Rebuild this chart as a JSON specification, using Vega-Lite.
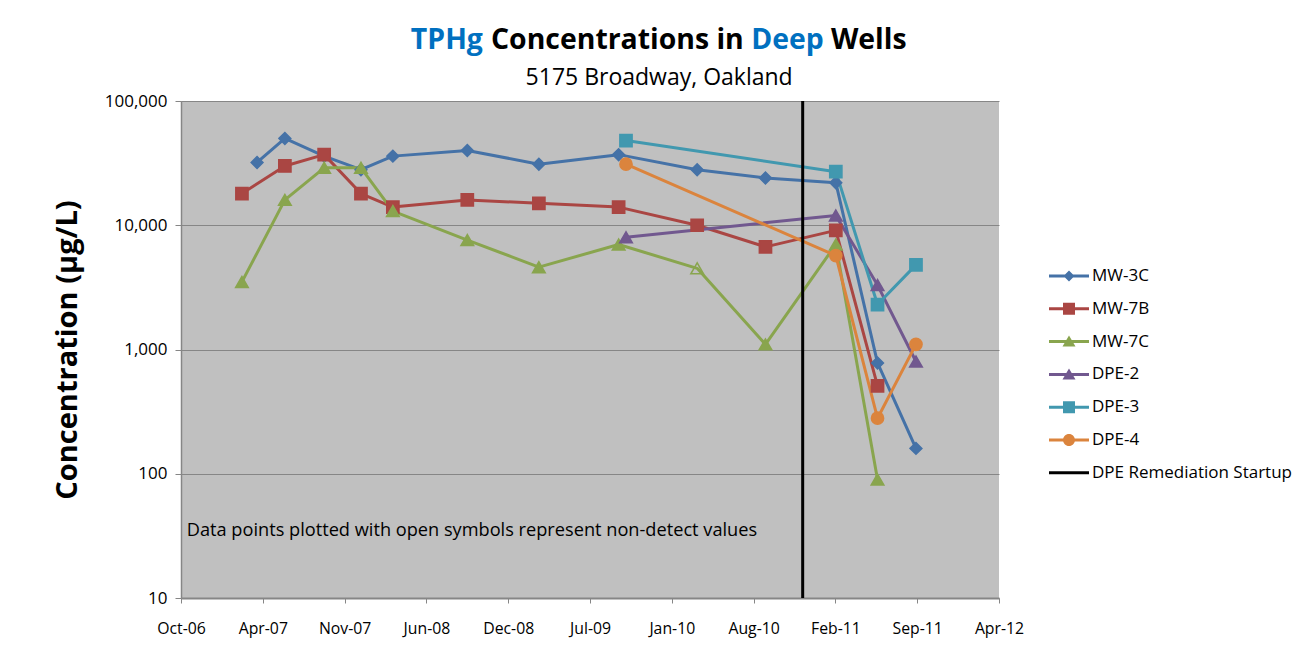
{
  "$schema": "https://vega.github.io/schema/vega-lite/v6.json",
  "width": 818,
  "height": 497,
  "autosize": {"type": "none"},
  "padding": {"left": 181, "top": 101, "right": 314, "bottom": 59},
  "background": "white",
  "view": {"fill": "#C0C0C0", "stroke": null},
  "config": {
    "font": "Open Sans",
    "view": {"fill": "#C0C0C0", "stroke": null},
    "axis": {"labelFont": "Open Sans", "labelColor": "black", "domainColor": "#868686", "tickColor": "#868686", "gridColor": "#868686", "gridOpacity": 1}
  },
  "datasets": {
    "wells": [
      {"well": "MW-3C", "date": "2007-04-14", "value": 32000},
      {"well": "MW-3C", "date": "2007-06-21", "value": 50000},
      {"well": "MW-3C", "date": "2007-09-25", "value": 36000},
      {"well": "MW-3C", "date": "2007-12-24", "value": 28000},
      {"well": "MW-3C", "date": "2008-03-11", "value": 36000},
      {"well": "MW-3C", "date": "2008-09-09", "value": 40000},
      {"well": "MW-3C", "date": "2009-03-03", "value": 31000},
      {"well": "MW-3C", "date": "2009-09-14", "value": 37000},
      {"well": "MW-3C", "date": "2010-03-25", "value": 28000},
      {"well": "MW-3C", "date": "2010-09-08", "value": 24000},
      {"well": "MW-3C", "date": "2011-02-27", "value": 22000},
      {"well": "MW-3C", "date": "2011-06-09", "value": 780},
      {"well": "MW-3C", "date": "2011-09-11", "value": 160},
      {"well": "MW-7B", "date": "2007-03-08", "value": 18000},
      {"well": "MW-7B", "date": "2007-06-21", "value": 30000},
      {"well": "MW-7B", "date": "2007-09-25", "value": 37000},
      {"well": "MW-7B", "date": "2007-12-24", "value": 18000},
      {"well": "MW-7B", "date": "2008-03-11", "value": 14000},
      {"well": "MW-7B", "date": "2008-09-09", "value": 16000},
      {"well": "MW-7B", "date": "2009-03-03", "value": 15000},
      {"well": "MW-7B", "date": "2009-09-14", "value": 14000},
      {"well": "MW-7B", "date": "2010-03-25", "value": 10000},
      {"well": "MW-7B", "date": "2010-09-08", "value": 6700},
      {"well": "MW-7B", "date": "2011-02-27", "value": 9100},
      {"well": "MW-7B", "date": "2011-06-09", "value": 510},
      {"well": "MW-7C", "date": "2007-03-08", "value": 3500},
      {"well": "MW-7C", "date": "2007-06-21", "value": 16000},
      {"well": "MW-7C", "date": "2007-09-25", "value": 29000},
      {"well": "MW-7C", "date": "2007-12-24", "value": 29000},
      {"well": "MW-7C", "date": "2008-03-11", "value": 13000},
      {"well": "MW-7C", "date": "2008-09-09", "value": 7600},
      {"well": "MW-7C", "date": "2009-03-03", "value": 4600},
      {"well": "MW-7C", "date": "2009-09-14", "value": 7000},
      {"well": "MW-7C", "date": "2010-03-25", "value": 4500, "nd": true},
      {"well": "MW-7C", "date": "2010-09-08", "value": 1100},
      {"well": "MW-7C", "date": "2011-02-27", "value": 7000},
      {"well": "MW-7C", "date": "2011-06-09", "value": 90},
      {"well": "DPE-2", "date": "2009-10-02", "value": 8000},
      {"well": "DPE-2", "date": "2011-02-27", "value": 12000},
      {"well": "DPE-2", "date": "2011-06-09", "value": 3300},
      {"well": "DPE-2", "date": "2011-09-11", "value": 800},
      {"well": "DPE-3", "date": "2009-10-02", "value": 48000},
      {"well": "DPE-3", "date": "2011-02-27", "value": 27000},
      {"well": "DPE-3", "date": "2011-06-09", "value": 2300},
      {"well": "DPE-3", "date": "2011-09-11", "value": 4800},
      {"well": "DPE-4", "date": "2009-10-02", "value": 31000},
      {"well": "DPE-4", "date": "2011-02-27", "value": 5700},
      {"well": "DPE-4", "date": "2011-06-09", "value": 280},
      {"well": "DPE-4", "date": "2011-09-11", "value": 1100}
    ],
    "events": [
      {"event": "DPE Remediation Startup", "date": "2010-12-08"}
    ]
  },
  "layer": [
    {
      "data": {"name": "wells"},
      "transform": [{"filter": "false"}],
      "mark": {"type": "point", "filled": true, "opacity": 1},
      "encoding": {
        "color": {
          "field": "well", "type": "nominal",
          "scale": {"domain": ["MW-3C", "MW-7B", "MW-7C", "DPE-2", "DPE-3", "DPE-4", "DPE Remediation Startup"], "range": ["#4572A7", "#AA4643", "#89A54E", "#71588F", "#4198AF", "#DB843D", "#000000"]},
          "legend": {
            "title": null, "orient": "none", "legendX": 878, "legendY": 165,
            "symbolSize": 400, "labelOffset": 13, "rowPadding": 14.8, "labelLimit": 400,
            "labelFontSize": 17, "labelFont": "Open Sans", "labelColor": "black", "padding": 0,
            "symbolStrokeWidth": 0, "symbolOpacity": 1
          }
        },
        "shape": {
          "field": "well", "type": "nominal",
          "scale": {
            "domain": ["MW-3C", "MW-7B", "MW-7C", "DPE-2", "DPE-3", "DPE-4", "DPE Remediation Startup"],
            "range": [
              "M-2,-0.15H2V0.15H-2ZM0,-0.55L0.55,0L0,0.55L-0.55,0Z",
              "M-2,-0.15H2V0.15H-2ZM-0.6,-0.6H0.6V0.6H-0.6Z",
              "M-2,-0.15H2V0.15H-2ZM0,-0.6L0.65,0.5H-0.65Z",
              "M-2,-0.15H2V0.15H-2ZM0,-0.6L0.65,0.5H-0.65Z",
              "M-2,-0.15H2V0.15H-2ZM-0.6,-0.6H0.6V0.6H-0.6Z",
              "M-2,-0.15H2V0.15H-2ZM-0.6,0A0.6,0.6 0 1,1 0.6,0A0.6,0.6 0 1,1 -0.6,0Z",
              "M-2,-0.15H2V0.15H-2Z"
            ]
          },
          "legend": {
            "title": null, "orient": "none", "legendX": 878, "legendY": 165,
            "symbolSize": 400, "labelOffset": 13, "rowPadding": 14.8, "labelLimit": 400,
            "labelFontSize": 17, "labelFont": "Open Sans", "labelColor": "black", "padding": 0,
            "symbolStrokeWidth": 0, "symbolOpacity": 1
          }
        }
      }
    },
    {
      "data": {"name": "wells"},
      "mark": {"type": "line", "strokeWidth": 3, "strokeJoin": "round"},
      "encoding": {
        "x": {
          "field": "date", "type": "temporal",
          "scale": {"type": "utc", "domain": [{"year": 2006, "month": 10, "date": 10, "utc": true}, {"year": 2012, "month": 4, "date": 1, "utc": true}]},
          "axis": {
            "values": [
              {"year": 2006, "month": 10, "date": 10, "utc": true},
              {"year": 2007, "month": 4, "date": 28, "utc": true},
              {"year": 2007, "month": 11, "date": 14, "utc": true},
              {"year": 2008, "month": 6, "date": 1, "utc": true},
              {"year": 2008, "month": 12, "date": 18, "utc": true},
              {"year": 2009, "month": 7, "date": 6, "utc": true},
              {"year": 2010, "month": 1, "date": 22, "utc": true},
              {"year": 2010, "month": 8, "date": 10, "utc": true},
              {"year": 2011, "month": 2, "date": 26, "utc": true},
              {"year": 2011, "month": 9, "date": 14, "utc": true},
              {"year": 2012, "month": 4, "date": 1, "utc": true}
            ],
            "labelExpr": "utcFormat(datum.value, '%b-%y')",
            "labelFontSize": 15.8,
            "grid": false, "tickSize": 5, "labelPadding": 18, "domainWidth": 2,
            "title": null, "labelFlush": false, "labelOverlap": false
          }
        },
        "y": {
          "field": "value", "type": "quantitative",
          "scale": {"type": "log", "domain": [10, 100000], "nice": false},
          "axis": {
            "values": [10, 100, 1000, 10000, 100000], "format": ",d",
            "labelFontSize": 17,
            "grid": true, "tickSize": 6, "labelPadding": 8, "domainWidth": 1.5,
            "labelFlush": false, "labelOverlap": false,
            "title": "Concentration (µg/L)", "titleFont": "Open Sans", "titleFontSize": 29, "titleFontWeight": "bold", "titleColor": "black", "titlePadding": 22
          }
        },
        "color": {"field": "well", "type": "nominal"}
      }
    },
    {
      "data": {"name": "wells"},
      "transform": [{"filter": {"field": "well", "oneOf": ["MW-3C"]}}],
      "mark": {"type": "point", "filled": true, "opacity": 1, "size": 140, "strokeWidth": 1.5, "shape": "diamond"},
      "encoding": {
        "x": {"field": "date", "type": "temporal"},
        "y": {"field": "value", "type": "quantitative"},
        "color": {"field": "well", "type": "nominal"},
        "stroke": {"field": "well", "type": "nominal", "scale": {"domain": ["MW-3C", "MW-7B", "MW-7C", "DPE-2", "DPE-3", "DPE-4"], "range": ["#4572A7", "#AA4643", "#89A54E", "#71588F", "#4198AF", "#DB843D"]}, "legend": null},
        "fillOpacity": {"condition": {"test": "datum.nd === true", "value": 0}, "value": 1}
      }
    },
    {
      "data": {"name": "wells"},
      "transform": [{"filter": {"field": "well", "oneOf": ["MW-7B", "DPE-3"]}}],
      "mark": {"type": "point", "filled": true, "opacity": 1, "size": 150, "strokeWidth": 1.5, "shape": "square"},
      "encoding": {
        "x": {"field": "date", "type": "temporal"},
        "y": {"field": "value", "type": "quantitative"},
        "color": {"field": "well", "type": "nominal"},
        "stroke": {"field": "well", "type": "nominal", "legend": null},
        "fillOpacity": {"condition": {"test": "datum.nd === true", "value": 0}, "value": 1}
      }
    },
    {
      "data": {"name": "wells"},
      "transform": [{"filter": {"field": "well", "oneOf": ["MW-7C", "DPE-2"]}}],
      "mark": {"type": "point", "filled": true, "opacity": 1, "size": 160, "strokeWidth": 1.5, "shape": "triangle-up"},
      "encoding": {
        "x": {"field": "date", "type": "temporal"},
        "y": {"field": "value", "type": "quantitative"},
        "color": {"field": "well", "type": "nominal"},
        "stroke": {"field": "well", "type": "nominal", "legend": null},
        "fillOpacity": {"condition": {"test": "datum.nd === true", "value": 0}, "value": 1}
      }
    },
    {
      "data": {"name": "wells"},
      "transform": [{"filter": {"field": "well", "oneOf": ["DPE-4"]}}],
      "mark": {"type": "point", "filled": true, "opacity": 1, "size": 150, "strokeWidth": 1.5, "shape": "circle"},
      "encoding": {
        "x": {"field": "date", "type": "temporal"},
        "y": {"field": "value", "type": "quantitative"},
        "color": {"field": "well", "type": "nominal"},
        "stroke": {"field": "well", "type": "nominal", "legend": null},
        "fillOpacity": {"condition": {"test": "datum.nd === true", "value": 0}, "value": 1}
      }
    },
    {
      "data": {"name": "events"},
      "mark": {"type": "rule", "strokeWidth": 3, "color": "black"},
      "encoding": {
        "x": {"field": "date", "type": "temporal"}
      }
    },
    {
      "data": {"values": [{}]},
      "mark": {"type": "text", "align": "left", "baseline": "middle", "fontSize": 18.2, "font": "Open Sans", "color": "black", "text": "Data points plotted with open symbols represent non-detect values"},
      "encoding": {
        "x": {"datum": {"year": 2006, "month": 10, "date": 24, "utc": true}, "type": "temporal"},
        "y": {"datum": 34.5, "type": "quantitative"}
      }
    },
    {
      "data": {"values": [{}]},
      "mark": {"type": "text", "align": "left", "baseline": "middle", "fontSize": 28.4, "fontWeight": "bold", "font": "Open Sans", "color": "#0070C0", "text": "TPHg"},
      "encoding": {
        "x": {"datum": {"year": 2008, "month": 4, "date": 24, "utc": true}, "type": "temporal"},
        "y": {"datum": 310000, "type": "quantitative"}
      }
    },
    {
      "data": {"values": [{}]},
      "mark": {"type": "text", "align": "left", "baseline": "middle", "fontSize": 28.4, "fontWeight": "bold", "font": "Open Sans", "color": "black", "text": "Concentrations in"},
      "encoding": {
        "x": {"datum": {"year": 2008, "month": 11, "date": 6, "utc": true}, "type": "temporal"},
        "y": {"datum": 310000, "type": "quantitative"}
      }
    },
    {
      "data": {"values": [{}]},
      "mark": {"type": "text", "align": "left", "baseline": "middle", "fontSize": 28.4, "fontWeight": "bold", "font": "Open Sans", "color": "#0070C0", "text": "Deep"},
      "encoding": {
        "x": {"datum": {"year": 2010, "month": 8, "date": 4, "utc": true}, "type": "temporal"},
        "y": {"datum": 310000, "type": "quantitative"}
      }
    },
    {
      "data": {"values": [{}]},
      "mark": {"type": "text", "align": "left", "baseline": "middle", "fontSize": 28.4, "fontWeight": "bold", "font": "Open Sans", "color": "black", "text": "Wells"},
      "encoding": {
        "x": {"datum": {"year": 2011, "month": 2, "date": 15, "utc": true}, "type": "temporal"},
        "y": {"datum": 310000, "type": "quantitative"}
      }
    },
    {
      "data": {"values": [{}]},
      "mark": {"type": "text", "align": "center", "baseline": "middle", "fontSize": 23, "font": "Open Sans", "color": "black", "text": "5175 Broadway, Oakland"},
      "encoding": {
        "x": {"datum": {"year": 2009, "month": 12, "date": 22, "utc": true}, "type": "temporal"},
        "y": {"datum": 154000, "type": "quantitative"}
      }
    }
  ]
}
